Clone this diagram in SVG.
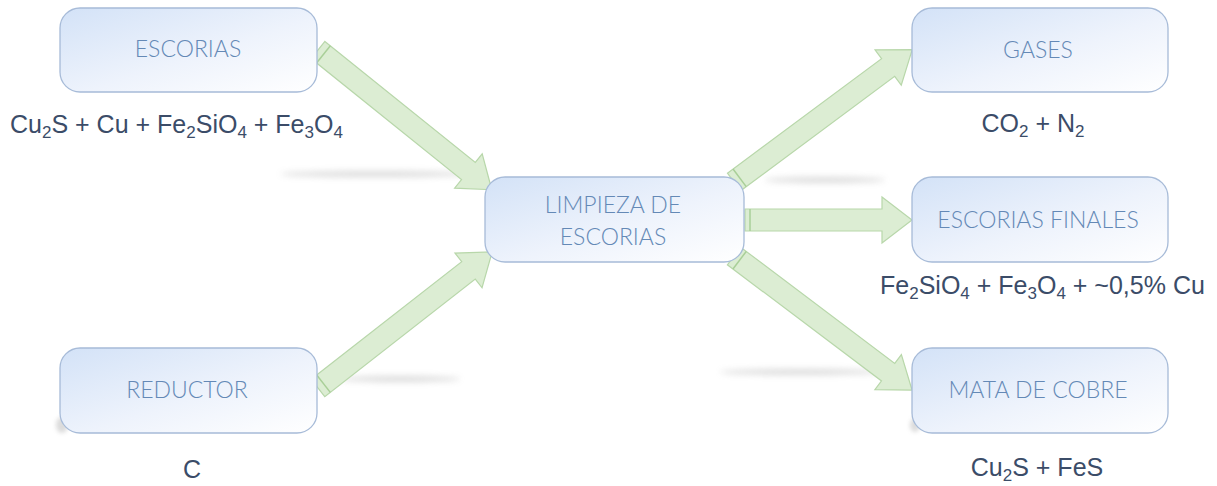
<svg xmlns="http://www.w3.org/2000/svg" width="1217" height="486" viewBox="0 0 1217 486">
<defs>
<linearGradient id="boxg" x1="0" y1="0" x2="1" y2="1">
<stop offset="0" stop-color="#d3e2f7"/>
<stop offset="0.55" stop-color="#eef3fc"/>
<stop offset="1" stop-color="#ffffff"/>
</linearGradient>
<filter id="blur" x="-50%" y="-200%" width="200%" height="500%"><feGaussianBlur stdDeviation="3"/></filter>
<filter id="blur2" x="-50%" y="-200%" width="200%" height="500%"><feGaussianBlur stdDeviation="2"/></filter>
<style>
.box{fill:url(#boxg);stroke:#a7bbd8;stroke-width:1.3}
.lbl{font-family:Lato,"Liberation Sans",sans-serif;font-weight:300;font-size:23px;fill:#6489b6;text-anchor:middle}
.f{font-family:"Liberation Sans",Arial,sans-serif;font-size:25px;fill:#3b4c68}
.sub{font-size:17px}
.arr{fill:#dcedd3;stroke:#b8d7aa;stroke-width:1.2;stroke-linejoin:miter}
.tail{stroke:#a9cf98;stroke-width:1.5}
.sh{fill:#9a9a9a;opacity:0.35}
</style>
</defs>
<rect width="1217" height="486" fill="#ffffff"/>
<g id="shadows">
<ellipse class="sh" cx="375" cy="174" rx="95" ry="3" filter="url(#blur)"/>
<ellipse class="sh" cx="400" cy="379" rx="60" ry="3" filter="url(#blur)"/>
<ellipse class="sh" cx="825" cy="180" rx="60" ry="3" filter="url(#blur)"/>
<ellipse class="sh" cx="800" cy="372" rx="80" ry="3" filter="url(#blur)"/>
<ellipse class="sh" cx="62" cy="425" rx="6" ry="8" filter="url(#blur2)"/>
<ellipse class="sh" cx="915" cy="425" rx="5" ry="7" filter="url(#blur2)"/>
</g>
<g id="connectors">
<g transform="translate(318,50) rotate(38.8)">
<polygon class="arr" points="0,-11 193,-11 193,-22 223,0 193,22 193,11 0,11"/>
<line class="tail" x1="7" y1="-11" x2="7" y2="11"/>
</g>
<g transform="translate(318,388) rotate(-38)">
<polygon class="arr" points="0,-11 191,-11 191,-22 221,0 191,22 191,11 0,11"/>
<line class="tail" x1="7" y1="-11" x2="7" y2="11"/>
</g>
<g transform="translate(734,182) rotate(-36.6)">
<polygon class="arr" points="0,-11 192,-11 192,-22 222,0 192,22 192,11 0,11"/>
<line class="tail" x1="7" y1="-11" x2="7" y2="11"/>
</g>
<g transform="translate(745,220)">
<polygon class="arr" points="0,-11 137,-11 137,-23 167,0 137,23 137,11 0,11"/>
<line class="tail" x1="5" y1="-11" x2="5" y2="11"/>
</g>
<g transform="translate(734,256) rotate(37)">
<polygon class="arr" points="0,-11 193,-11 193,-22 223,0 193,22 193,11 0,11"/>
<line class="tail" x1="7" y1="-11" x2="7" y2="11"/>
</g>
</g>
<g id="escorias">
<rect class="box" x="60" y="8" width="257" height="84" rx="20"/>
<text class="lbl" x="188" y="57">ESCORIAS</text>
<text class="f" x="10" y="133">Cu<tspan class="sub" dy="5">2</tspan><tspan dy="-5">S + Cu + Fe</tspan><tspan class="sub" dy="5">2</tspan><tspan dy="-5">SiO</tspan><tspan class="sub" dy="5">4</tspan><tspan dy="-5"> + Fe</tspan><tspan class="sub" dy="5">3</tspan><tspan dy="-5">O</tspan><tspan class="sub" dy="5">4</tspan></text>
</g>
<g id="reductor">
<rect class="box" x="60" y="348" width="257" height="85" rx="20"/>
<text class="lbl" x="187" y="398">REDUCTOR</text>
<text class="f" x="192" y="478" text-anchor="middle">C</text>
</g>
<g id="limpieza">
<rect class="box" x="485" y="177" width="259" height="85" rx="20"/>
<text class="lbl" x="613" y="213">LIMPIEZA DE</text>
<text class="lbl" x="613" y="245">ESCORIAS</text>
</g>
<g id="gases">
<rect class="box" x="912" y="8" width="256" height="84" rx="20"/>
<text class="lbl" x="1038" y="58">GASES</text>
<text class="f" x="1033" y="132" text-anchor="middle">CO<tspan class="sub" dy="5">2</tspan><tspan dy="-5"> + N</tspan><tspan class="sub" dy="5">2</tspan></text>
</g>
<g id="escorias-finales">
<rect class="box" x="912" y="177" width="256" height="85" rx="20"/>
<text class="lbl" x="1038" y="228">ESCORIAS FINALES</text>
<text class="f" x="880" y="294">Fe<tspan class="sub" dy="5">2</tspan><tspan dy="-5">SiO</tspan><tspan class="sub" dy="5">4</tspan><tspan dy="-5"> + Fe</tspan><tspan class="sub" dy="5">3</tspan><tspan dy="-5">O</tspan><tspan class="sub" dy="5">4</tspan><tspan dy="-5"> + ~0,5% Cu</tspan></text>
</g>
<g id="mata">
<rect class="box" x="912" y="348" width="256" height="85" rx="20"/>
<text class="lbl" x="1038" y="398">MATA DE COBRE</text>
<text class="f" x="1037" y="476" text-anchor="middle">Cu<tspan class="sub" dy="5">2</tspan><tspan dy="-5">S + FeS</tspan></text>
</g>
</svg>
